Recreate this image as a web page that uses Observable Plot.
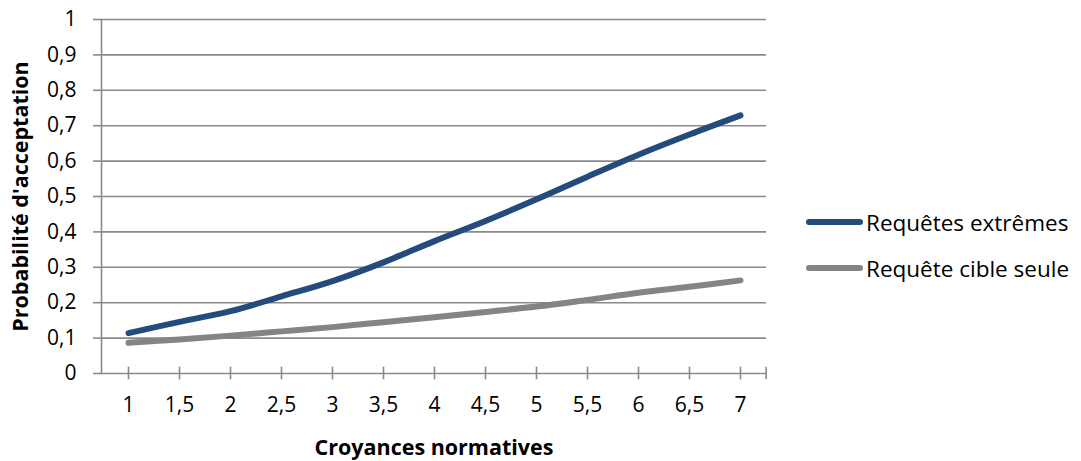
<!DOCTYPE html>
<html><head><meta charset="utf-8">
<script src="https://cdn.jsdelivr.net/npm/d3@7"></script>
<script src="https://cdn.jsdelivr.net/npm/@observablehq/plot@0.6"></script>
<style>
html,body{margin:0;padding:0;background:#fff;}
#wrap{position:relative;width:1081px;height:461px;}
#wrap svg{overflow:visible;}
.leg{position:absolute;left:806px;height:30px;font-family:"Open Sans",sans-serif;font-size:22.5px;color:#000;display:flex;align-items:center;white-space:nowrap;}
.leg span.sw{display:inline-block;width:57px;height:6px;border-radius:3px;margin-right:3px;}
</style></head>
<body><div id="wrap"></div>
<script>
const categories = ["1","1,5","2","2,5","3","3,5","4","4,5","5","5,5","6","6,5","7"];
const extremes = [0.114,0.146,0.176,0.218,0.261,0.314,0.374,0.431,0.492,0.556,0.618,0.675,0.729];
const cibleSeule = [0.087,0.096,0.107,0.119,0.131,0.145,0.159,0.174,0.189,0.208,0.228,0.245,0.263];
const seriesNames = ["Requêtes extrêmes","Requête cible seule"];
const colors = ["#234b7c","#848484"];
const yTicks = [0,0.1,0.2,0.3,0.4,0.5,0.6,0.7,0.8,0.9,1];

const data = [];
categories.forEach((c,i)=>{
  data.push({x:c, y:extremes[i], s:seriesNames[0]});
  data.push({x:c, y:cibleSeule[i], s:seriesNames[1]});
});

const W=1081,H=461,ml=101,mr=315,mt=19,mb=88;
const halfStep = (W-ml-mr)/categories.length/2;
const fmt = d => String(Math.round(d*10)/10).replace(".",",");
const FONT = "'Open Sans', sans-serif";

const chart = Plot.plot({
  width:W,height:H,marginLeft:ml,marginRight:mr,marginTop:mt,marginBottom:mb,
  style:{fontFamily:FONT,fontSize:"21px",color:"#000",background:"#fff",overflow:"visible"},
  x:{type:"point",domain:categories,padding:0.5},
  y:{domain:[0,1]},
  color:{domain:seriesNames,range:colors},
  marks:[
    Plot.ruleY(yTicks,{stroke:"#8a8a8a",strokeWidth:1.6}),
    Plot.axisY({ticks:yTicks,tickFormat:fmt,tickSize:8,tickPadding:17,fontSize:21,stroke:"#8a8a8a",strokeWidth:1.6,strokeOpacity:1,
      label:"Probabilité d'acceptation",labelAnchor:"center",labelArrow:"none",labelOffset:89}),
    Plot.frame({anchor:"left",stroke:"#8a8a8a",strokeWidth:1.6}),
    Plot.ruleX(categories,{x:d=>d,y1:-0.018,y2:0.018,stroke:"#8a8a8a",strokeWidth:1.6}),
    Plot.ruleX([categories[categories.length-1]],{x:d=>d,dx:halfStep,y1:-0.018,y2:0.018,stroke:"#8a8a8a",strokeWidth:1.6}),
    Plot.axisX({tickSize:0,tickPadding:24,fontSize:21,label:"Croyances normatives",labelAnchor:"center",labelArrow:"none",labelOffset:81}),
    Plot.line(data,{x:"x",y:"y",z:"s",stroke:"s",strokeWidth:6,curve:"catmull-rom",strokeLinecap:"round",strokeLinejoin:"round"})
  ]
});
const svg = chart;
svg.querySelectorAll('[aria-label="y-axis label"] text, [aria-label="x-axis label"] text').forEach(t=>{t.setAttribute("font-weight","bold");t.setAttribute("font-size","21.5");});
document.getElementById("wrap").appendChild(svg);
seriesNames.forEach((n,i)=>{
  const d=document.createElement("div");d.className="leg";d.style.top=(i===0?207:253)+"px";
  const sw=document.createElement("span");sw.className="sw";sw.style.background=colors[i];
  d.appendChild(sw);d.appendChild(document.createTextNode(n));
  document.getElementById("wrap").appendChild(d);
});
</script></body></html>
